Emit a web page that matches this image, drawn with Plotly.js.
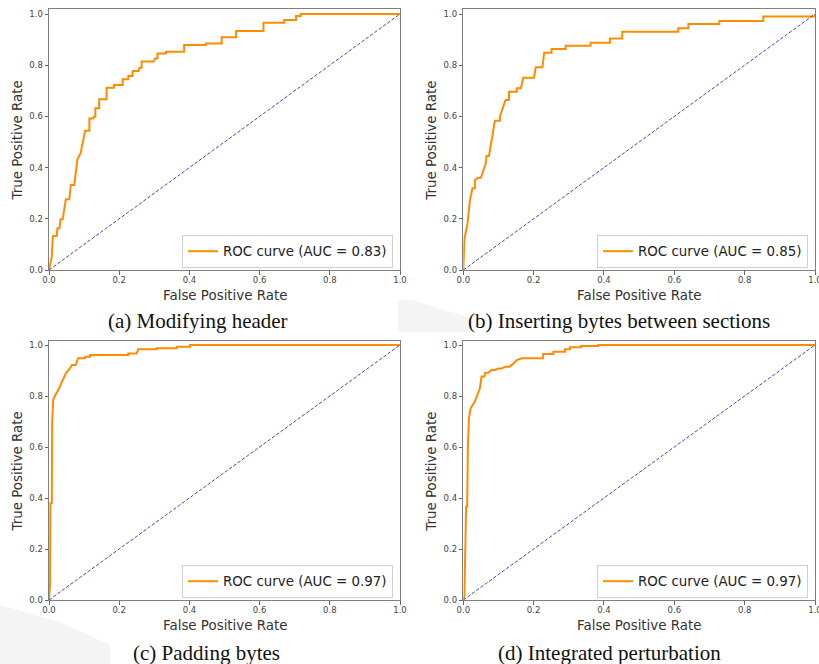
<!DOCTYPE html>
<html><head><meta charset="utf-8">
<script src="https://cdn.plot.ly/plotly-3.0.1.min.js"></script>
<style>html,body{margin:0;padding:0;background:#fff}</style>
</head><body><div id="chart" style="width:819px;height:664px"></div>
<script>
// (a) Modifying header
const fprA = [0,0.008,0.011,0.022,0.024,0.030,0.033,0.039,0.043,0.048,0.058,0.062,0.072,0.077,0.081,0.090,0.096,0.103,0.115,0.115,0.126,0.128,0.132,0.132,0.143,0.143,0.164,0.164,0.185,0.185,0.210,0.210,0.226,0.226,0.238,0.238,0.255,0.258,0.264,0.264,0.298,0.302,0.309,0.309,0.333,0.333,0.385,0.385,0.447,0.447,0.492,0.492,0.533,0.533,0.611,0.611,0.670,0.670,0.704,0.704,0.717,0.717,1];
const tprA = [0,0.052,0.133,0.133,0.163,0.163,0.198,0.198,0.234,0.276,0.276,0.332,0.332,0.378,0.432,0.456,0.497,0.544,0.544,0.592,0.592,0.599,0.599,0.632,0.632,0.667,0.667,0.712,0.712,0.723,0.723,0.745,0.745,0.758,0.758,0.777,0.777,0.790,0.790,0.814,0.814,0.826,0.826,0.846,0.846,0.853,0.853,0.879,0.879,0.885,0.885,0.909,0.909,0.934,0.934,0.966,0.966,0.977,0.977,0.992,0.992,1,1];
// (b) Inserting bytes between sections
const fprB = [0,0.003,0.003,0.012,0.016,0.019,0.026,0.033,0.033,0.041,0.050,0.057,0.064,0.066,0.073,0.079,0.082,0.088,0.090,0.104,0.104,0.120,0.130,0.130,0.152,0.152,0.164,0.170,0.201,0.206,0.225,0.230,0.251,0.251,0.291,0.291,0.362,0.362,0.417,0.417,0.452,0.452,0.611,0.611,0.640,0.640,0.728,0.728,0.853,0.853,1,1];
const tprB = [0,0.104,0.120,0.182,0.234,0.273,0.319,0.319,0.352,0.360,0.360,0.390,0.417,0.445,0.445,0.495,0.514,0.570,0.583,0.583,0.599,0.664,0.664,0.696,0.696,0.710,0.710,0.751,0.751,0.792,0.792,0.849,0.849,0.863,0.863,0.876,0.876,0.888,0.888,0.904,0.904,0.931,0.931,0.944,0.944,0.961,0.961,0.973,0.973,0.990,0.990,1];
// (c) Padding bytes
const fprC = [0,0.003,0.004,0.008,0.009,0.012,0.018,0.027,0.035,0.040,0.048,0.058,0.065,0.076,0.078,0.083,0.103,0.103,0.117,0.117,0.226,0.226,0.250,0.254,0.307,0.307,0.364,0.364,0.402,0.402,1];
const tprC = [0,0.060,0.379,0.379,0.693,0.784,0.804,0.824,0.850,0.863,0.889,0.905,0.922,0.922,0.928,0.948,0.948,0.954,0.954,0.961,0.961,0.967,0.967,0.983,0.983,0.987,0.987,0.993,0.993,1,1];
// (d) Integrated perturbation
const fprD = [0,0.003,0.008,0.011,0.013,0.016,0.021,0.028,0.033,0.038,0.047,0.052,0.060,0.062,0.071,0.080,0.090,0.100,0.109,0.120,0.131,0.140,0.147,0.152,0.166,0.227,0.227,0.256,0.256,0.289,0.289,0.303,0.303,0.335,0.335,0.384,0.384,1];
const tprD = [0,0.013,0.366,0.366,0.601,0.712,0.752,0.765,0.778,0.797,0.830,0.876,0.876,0.891,0.891,0.902,0.902,0.908,0.908,0.915,0.915,0.924,0.935,0.941,0.948,0.948,0.965,0.965,0.974,0.974,0.983,0.983,0.991,0.991,0.996,0.996,1,1];

const aucValues = ['0.83','0.85','0.97','0.97'];
const captions = ['(a) Modifying header','(b) Inserting bytes between sections','(c) Padding bytes','(d) Integrated perturbation'];
const tickVals = [0,0.2,0.4,0.6,0.8,1.0];
const tickText = ['0.0','0.2','0.4','0.6','0.8','1.0'];
const diagX = [0,1];
const diagY = [0,1];

const W = 819, H = 664;
const cols = [[49,400],[463.3,815]];
const rows = [[9,270],[341,600]];
const px = v => v / W;
const py = v => 1 - v / H;

const curves = [[fprA,tprA],[fprB,tprB],[fprC,tprC],[fprD,tprD]];
const traces = [];
const layout = {
  width: W, height: H, autosize: false,
  margin: {l:0,r:0,t:0,b:0},
  paper_bgcolor: '#fff', plot_bgcolor: '#fff',
  font: {family: 'DejaVu Sans', color: '#333'},
  annotations: [], showlegend: true,
  shapes: [
    {type: 'path', xref: 'paper', yref: 'paper', layer: 'below', line: {width: 0},
     fillcolor: 'rgba(205,205,205,0.22)',
     path: 'M ' + px(398) + ' ' + py(300) + ' L ' + px(412) + ' ' + py(300) + ' L ' + px(470) + ' ' + py(318) + ' L ' + px(470) + ' ' + py(332) + ' L ' + px(398) + ' ' + py(332) + ' Z'},
    {type: 'path', xref: 'paper', yref: 'paper', layer: 'below', line: {width: 0},
     fillcolor: 'rgba(205,205,205,0.22)',
     path: 'M ' + px(0) + ' ' + py(605) + ' L ' + px(60) + ' ' + py(622) + ' L ' + px(110) + ' ' + py(645) + ' L ' + px(110) + ' ' + py(664) + ' L ' + px(0) + ' ' + py(664) + ' Z'}
  ]
};
const capPos = [[198,321],[619,321],[206,653],[609,653]];
const legPos = [[393,268],[808,268],[393,598],[808,598]];

curves.forEach((c, i) => {
  const col = cols[i % 2], row = rows[Math.floor(i / 2)];
  const n = i === 0 ? '' : String(i + 1);
  const xa = 'x' + n, ya = 'y' + n;
  const legName = i === 0 ? 'legend' : 'legend' + (i + 1);
  traces.push({
    x: c[0], y: c[1], type: 'scatter', mode: 'lines',
    xaxis: xa, yaxis: ya, name: 'ROC curve (AUC = ' + aucValues[i] + ')',
    line: {color: '#ff8c00', width: 2}, legend: legName, hoverinfo: 'skip'
  });
  traces.push({
    x: diagX, y: diagY, type: 'scatter', mode: 'lines',
    xaxis: xa, yaxis: ya, showlegend: false,
    line: {color: '#4848b0', width: 1, dash: '3.5px,1.8px'}, hoverinfo: 'skip'
  });
  const axCommon = {
    showgrid: false, zeroline: false, showline: true, mirror: true,
    linecolor: '#808080', linewidth: 1, ticks: 'outside', ticklen: 3.5,
    tickwidth: 1, tickcolor: '#666', tickvals: tickVals, ticktext: tickText,
    tickfont: {family: 'DejaVu Sans', size: 8.5, color: '#444'}, fixedrange: true,
    ticklabeloverflow: 'allow'
  };
  layout['xaxis' + n] = Object.assign({}, axCommon, {
    domain: [px(col[0]), px(col[1])], range: [0, 1], anchor: ya, ticklabelstandoff: -2
  });
  layout['yaxis' + n] = Object.assign({}, axCommon, {
    domain: [py(row[1]), py(row[0])], range: [0, (row[1] - row[0]) / ((row[1] - row[0]) - (i < 2 ? 5 : 4))], anchor: xa
  });
  layout[legName] = {
    x: px(legPos[i][0]), y: py(legPos[i][1]), xanchor: 'right', yanchor: 'bottom',
    bgcolor: '#fff', bordercolor: '#d0d0d0', borderwidth: 1,
    font: {family: 'DejaVu Sans', size: 13.4, color: '#222'}, itemwidth: 30
  };
  layout.annotations.push({
    text: 'False Positive Rate', xref: 'paper', yref: 'paper', showarrow: false,
    x: px((col[0] + col[1]) / 2), y: py(row[1] + 25), xanchor: 'center', yanchor: 'middle',
    font: {family: 'DejaVu Sans', size: 13.4, color: '#333'}
  });
  layout.annotations.push({
    text: 'True Positive Rate', xref: 'paper', yref: 'paper', showarrow: false,
    x: px(col[0] - 32), y: py((row[0] + row[1]) / 2 + 1), xanchor: 'center', yanchor: 'middle',
    textangle: -90, font: {family: 'DejaVu Sans', size: 13.4, color: '#333'}
  });
  layout.annotations.push({
    text: captions[i], xref: 'paper', yref: 'paper', showarrow: false,
    x: px(capPos[i][0]), y: py(capPos[i][1]), xanchor: 'center', yanchor: 'middle',
    font: {family: 'Liberation Serif', size: 21, color: '#111'}
  });
});

Plotly.newPlot('chart', traces, layout, {displayModeBar: false, staticPlot: true});
</script></body></html>
